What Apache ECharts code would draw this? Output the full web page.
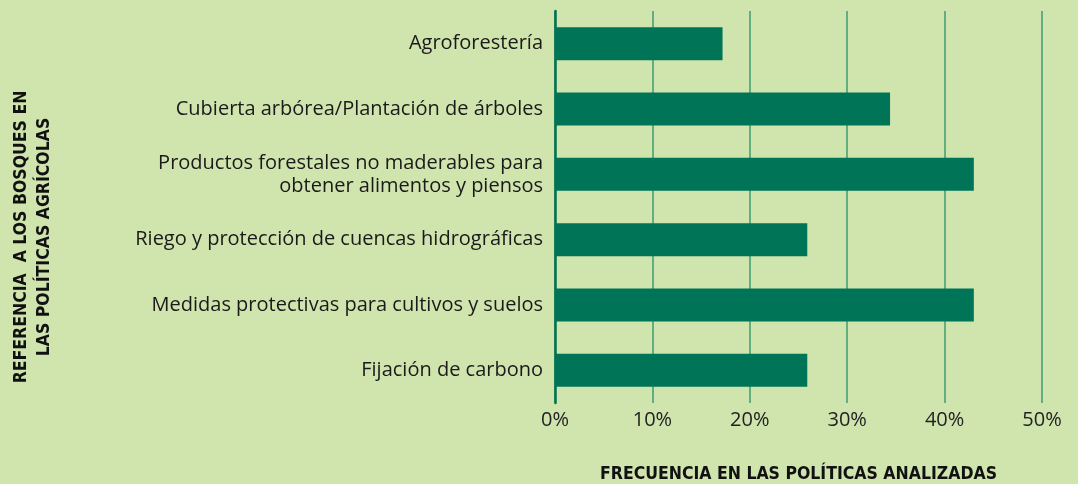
<!DOCTYPE html>
<html>
<head>
<meta charset="utf-8">
<script src="https://cdn.jsdelivr.net/npm/echarts@6/dist/echarts.min.js"></script>
<style>
  html, body { margin: 0; padding: 0; background: #d0e4ae; }
  #chart { width: 1078px; height: 484px; }
</style>
</head>
<body>
<div id="chart"></div>
<script>
// categorias (de arriba a abajo) y frecuencia en %
const categorias = [
  'Agroforestería',
  'Cubierta arbórea/Plantación de árboles',
  'Productos forestales no maderables para\nobtener alimentos y piensos',
  'Riego y protección de cuencas hidrográficas',
  'Medidas protectivas para cultivos y suelos',
  'Fijación de carbono'
]
const frecuencia = [17.2, 34.4, 43.0, 25.9, 43.0, 25.9]
const ticks = [0, 10, 20, 30, 40, 50]

const fuente = 'Open Sans'
const fuenteTitulo = 'DejaVu Sans Condensed'

const chart = echarts.init(document.getElementById('chart'))

chart.setOption({
  backgroundColor: '#d0e4ae',
  animation: false,
  grid: {
    left: 555,
    right: 36,
    top: 11,
    bottom: 81,
    outerBoundsMode: 'none'
  },
  xAxis: {
    type: 'value',
    min: ticks[0],
    max: ticks[ticks.length - 1],
    interval: 10,
    axisLine: { show: false },
    axisTick: { show: false },
    axisLabel: {
      formatter: '{value}%',
      fontFamily: fuente,
      fontSize: 20,
      color: '#222',
      margin: 7
    },
    splitLine: {
      lineStyle: { color: '#3d9c70', width: 1.5 }
    },
    name: 'FRECUENCIA EN LAS POLÍTICAS ANALIZADAS',
    nameLocation: 'middle',
    nameGap: 62,
    nameTextStyle: {
      fontFamily: fuenteTitulo,
      fontWeight: 'bold',
      fontSize: 17.5,
      color: '#111'
    }
  },
  yAxis: {
    type: 'category',
    inverse: true,
    data: categorias,
    axisLine: {
      lineStyle: { color: '#00704f', width: 2.5 }
    },
    axisTick: { show: false },
    axisLabel: {
      fontFamily: fuente,
      fontSize: 20,
      color: '#1a1a1a',
      lineHeight: 23,
      margin: 12
    }
  },
  graphic: [
    {
      type: 'text',
      x: 33,
      y: 237,
      rotation: Math.PI / 2,
      style: {
        text: 'REFERENCIA  A LOS BOSQUES EN\nLAS POLÍTICAS AGRÍCOLAS',
        fontFamily: fuenteTitulo,
        fontWeight: 'bold',
        fontSize: 17.5,
        lineHeight: 23,
        fill: '#111',
        align: 'center',
        verticalAlign: 'middle'
      }
    }
  ],
  series: [
    {
      type: 'bar',
      data: frecuencia,
      barWidth: 33,
      itemStyle: { color: '#007456' }
    }
  ]
})
</script>
</body>
</html>
